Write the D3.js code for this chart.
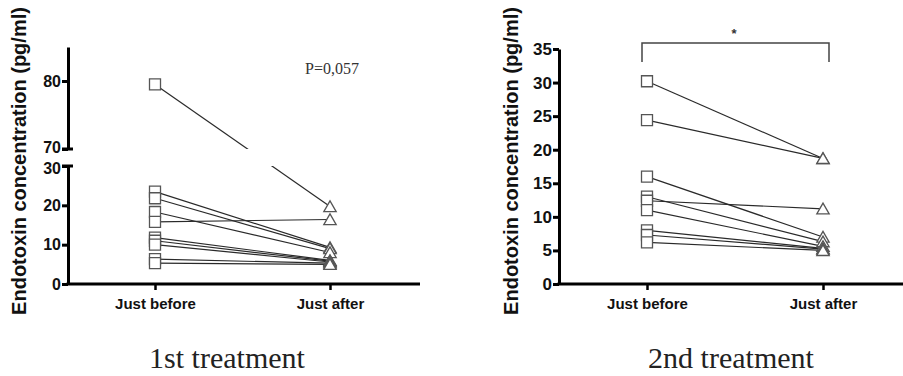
<!DOCTYPE html>
<html>
<head>
<meta charset="utf-8">
<script src="https://cdn.jsdelivr.net/npm/d3@7/dist/d3.min.js"></script>
<style>
  html, body { margin: 0; padding: 0; background: #fff; }
  svg { display: block; }
  .tick text { font-family: Arial, "Liberation Sans", sans-serif; font-weight: bold; fill: #111; }
</style>
</head>
<body>
<svg id="chart" width="903" height="376"></svg>
<script>
// Paired endotoxin measurements, before and after each treatment
const categories = ["Just before", "Just after"];

const first_before = [79.5, 23.5, 21.8, 18.3, 15.8, 11.8, 11.0, 10.0, 6.3, 5.3];
const first_after  = [19.7, 9.3, 9.0, 8.0, 16.4, 6.0, 5.8, 5.6, 5.3, 5.0];

const second_before = [30.2, 24.4, 16.0, 13.0, 12.4, 11.0, 8.0, 7.3, 6.2];
const second_after  = [18.7, 18.7, 7.0, 6.3, 11.2, 5.6, 5.3, 5.2, 5.0];

const first_low_ticks  = [0, 10, 20, 30];
const first_high_ticks = [70, 80];
const second_ticks     = [0, 5, 10, 15, 20, 25, 30, 35];

const panel_titles = ["1st treatment", "2nd treatment"];
const y_title = "Endotoxin concentration (pg/ml)";
const first_note = "P=0,057";
const second_note = "*";

const svg = d3.select("#chart");
const AXIS_W = 3;
const lineColor = "#2a2a2a";
const markColor = "#555";

const square = d3.symbol().type(d3.symbolSquare).size(121);
const triangle = d3.symbol().type(d3.symbolTriangle).size(66);

function pairs(before, after) {
  return before.map((b, i) => ({ before: b, after: after[i] }));
}

function styleAxis(g) {
  g.selectAll(".domain").attr("stroke", "#000").attr("stroke-width", AXIS_W);
  g.selectAll(".tick line").attr("stroke", "#000").attr("stroke-width", AXIS_W);
}

function yTitle(x, yMid) {
  svg.append("text")
    .attr("transform", `translate(${x},${yMid}) rotate(-90)`)
    .attr("text-anchor", "middle")
    .attr("dominant-baseline", "central")
    .style("font-family", "Arial, 'Liberation Sans', sans-serif")
    .style("font-weight", "bold")
    .style("font-size", "20px")
    .attr("fill", "#111")
    .text(y_title);
}

function panelTitle(x, text) {
  svg.append("text")
    .attr("x", x).attr("y", 368)
    .attr("text-anchor", "middle")
    .style("font-family", "'Liberation Serif', 'Times New Roman', serif")
    .style("font-size", "30px")
    .attr("fill", "#222")
    .text(text);
}

function xAxis(x, y0, left, right) {
  svg.append("line")
    .attr("x1", left).attr("x2", right)
    .attr("y1", y0).attr("y2", y0)
    .attr("stroke", "#000").attr("stroke-width", AXIS_W);
  const g = svg.append("g")
    .attr("transform", `translate(0,${y0})`)
    .call(d3.axisBottom(x).tickSize(6).tickSizeOuter(0));
  g.select(".domain").remove();
  g.selectAll(".tick line").attr("stroke", "#000").attr("stroke-width", 2.5);
  g.selectAll(".tick text").attr("dy", "1.05em").style("font-size", "15px");
}

function drawPairs(g, data, x, yOf) {
  g.selectAll("line.pair").data(data).join("line")
    .attr("class", "pair")
    .attr("x1", x(categories[0])).attr("y1", d => yOf(d.before))
    .attr("x2", x(categories[1])).attr("y2", d => yOf(d.after))
    .attr("stroke", lineColor).attr("stroke-width", 1.2);
}

function drawMarks(data, x, yOf) {
  svg.append("g").selectAll("path").data(data).join("path")
    .attr("d", square)
    .attr("transform", d => `translate(${x(categories[0])},${yOf(d.before)})`)
    .attr("fill", "#fff").attr("stroke", markColor).attr("stroke-width", 1.3);
  svg.append("g").selectAll("path").data(data).join("path")
    .attr("d", triangle)
    .attr("transform", d => `translate(${x(categories[1])},${yOf(d.after) + 1.5})`)
    .attr("fill", "#fff").attr("stroke", markColor).attr("stroke-width", 1.3);
}

// ---------- 1st treatment: broken y axis ----------
{
  const axisX = 68;
  const x = d3.scalePoint().domain(categories).range([155, 330]);
  const yLow = d3.scaleLinear().domain([0, 30]).range([284, 166]);
  const yHigh = d3.scaleLinear().domain([70, 85]).range([149, 47]);
  const yOf = v => (v >= 70 ? yHigh(v) : yLow(v));
  const data = pairs(first_before, first_after);

  const defs = svg.append("defs");
  defs.append("clipPath").attr("id", "clip-high").append("rect")
    .attr("x", axisX).attr("width", 360)
    .attr("y", yHigh(85) - 10).attr("height", yHigh(70) - yHigh(85) + 10);
  defs.append("clipPath").attr("id", "clip-low").append("rect")
    .attr("x", axisX).attr("width", 360)
    .attr("y", yLow(30)).attr("height", yLow(0) - yLow(30));

  drawPairs(svg.append("g").attr("clip-path", "url(#clip-high)"), data, x, yOf);
  drawPairs(svg.append("g").attr("clip-path", "url(#clip-low)"), data, x, yOf);

  const gLow = svg.append("g").attr("transform", `translate(${axisX},0)`)
    .call(d3.axisLeft(yLow).tickValues(first_low_ticks).tickSize(6).tickSizeOuter(0));
  styleAxis(gLow);
  gLow.selectAll(".tick text").style("font-size", "16px").attr("x", -7);
  // nudge the label just below the break downward so it clears "70"
  gLow.selectAll(".tick text").filter(d => d === 30).attr("dy", "0.45em");

  const gHigh = svg.append("g").attr("transform", `translate(${axisX},0)`)
    .call(d3.axisLeft(yHigh).tickValues(first_high_ticks).tickSize(6).tickSizeOuter(0));
  styleAxis(gHigh);
  gHigh.selectAll(".tick text").style("font-size", "16px").attr("x", -7);
  gHigh.selectAll(".tick text").filter(d => d === 70).attr("dy", "0.2em");

  // short caps on either side of the break
  [yHigh(70), yLow(30)].forEach(yy => {
    svg.append("line")
      .attr("x1", axisX - 6).attr("x2", axisX + 5)
      .attr("y1", yy).attr("y2", yy)
      .attr("stroke", "#000").attr("stroke-width", AXIS_W);
  });

  xAxis(x, 284, axisX - 1.5, 420);
  drawMarks(data, x, yOf);

  svg.append("text")
    .attr("x", 305).attr("y", 74)
    .style("font-family", "'Liberation Serif', 'Times New Roman', serif")
    .style("font-size", "16px")
    .attr("fill", "#333")
    .text(first_note);

  yTitle(19, 161);
  panelTitle(227, panel_titles[0]);
}

// ---------- 2nd treatment ----------
{
  const axisX = 559;
  const x = d3.scalePoint().domain(categories).range([647, 823]);
  const y = d3.scaleLinear().domain([0, 35]).range([284, 49]);
  const data = pairs(second_before, second_after);

  drawPairs(svg.append("g"), data, x, y);

  const gy = svg.append("g").attr("transform", `translate(${axisX},0)`)
    .call(d3.axisLeft(y).tickValues(second_ticks).tickSize(6).tickSizeOuter(0));
  styleAxis(gy);
  gy.selectAll(".tick text").style("font-size", "17px").attr("x", -7);

  xAxis(x, 284, axisX - 1.5, 903);
  drawMarks(data, x, y);

  // significance bracket
  const by = 43, drop = 19;
  svg.append("path")
    .attr("d", `M${x(categories[0]) - 5},${by + drop}V${by}H${x(categories[1]) + 6}V${by + drop}`)
    .attr("fill", "none").attr("stroke", "#444").attr("stroke-width", 1.5);
  svg.append("text")
    .attr("x", (x(categories[0]) + x(categories[1])) / 2 - 1).attr("y", 38)
    .attr("text-anchor", "middle")
    .style("font-family", "Arial, sans-serif")
    .style("font-size", "13px").style("font-weight", "bold")
    .attr("fill", "#333")
    .text(second_note);

  yTitle(511, 161);
  panelTitle(731, panel_titles[1]);
}
</script>
</body>
</html>
